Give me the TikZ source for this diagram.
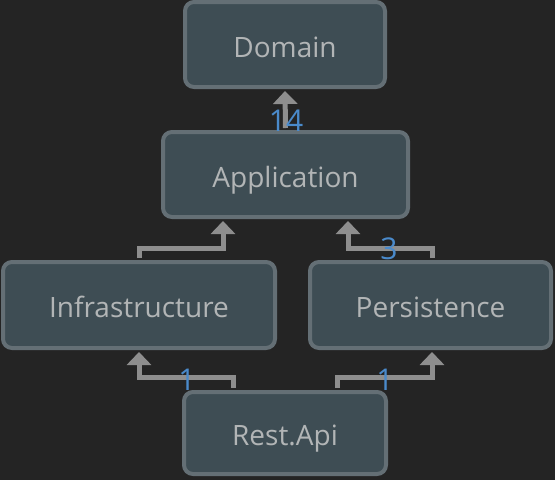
\documentclass[tikz,border=0pt]{standalone}
\usepackage{fontspec}
\setmainfont{Open Sans}
\usetikzlibrary{arrows.meta}
\definecolor{bg}{HTML}{242424}
\definecolor{boxfill}{HTML}{3E4D54}
\definecolor{boxline}{HTML}{646F75}
\definecolor{txt}{HTML}{B2B5B6}
\definecolor{arrowc}{HTML}{8E8E8E}
\definecolor{lblc}{HTML}{4A8ACB}
\tikzset{
  box/.style={draw=boxline, fill=boxfill, line width=4pt, rounded corners=9pt,
    text=txt, font=\fontsize{28}{30}\selectfont, inner sep=0pt,
    text height=30pt, text depth=5pt},
  dep/.style={draw=arrowc, line width=5pt, -{Triangle[width=24pt,length=13pt]}},
  lbl/.style={text=lblc, font=\fontsize{30}{30}\selectfont, inner sep=0pt}
}
\begin{document}
\begin{tikzpicture}[x=1pt,y=-1pt]
\fill[bg] (0,0) rectangle (555,480);
\useasboundingbox (0,0) rectangle (555,480);
\node[box, minimum width=200pt, minimum height=85pt] (dom) at (285,44.5) {Domain};
\node[box, minimum width=245pt, minimum height=85pt] (app) at (285.5,174.5) {Application};
\node[box, minimum width=272pt, minimum height=86pt] (inf) at (139,305) {Infrastructure};
\node[box, minimum width=241pt, minimum height=86pt] (per) at (430.5,305) {Persistence};
\node[box, minimum width=202pt, minimum height=82pt] (api) at (285,433) {Rest.Api};

\draw[dep] ([yshift=2pt]app.north) -- ([yshift=-2pt]dom.south);
\draw[dep] ([yshift=2pt]inf.north) -- ++(0,-10) -| ([xshift=-62.5pt,yshift=-2pt]app.south);
\draw[dep] ([yshift=2pt,xshift=1.5pt]per.north) -- ++(0,-10) -| ([xshift=62.5pt,yshift=-2pt]app.south);
\draw[dep] ([yshift=2pt,xshift=-52pt]api.north) -- ++(0,-11) -| ([yshift=-2pt]inf.south);
\draw[dep] ([yshift=2pt,xshift=52pt]api.north) -- ++(0,-11) -| ([xshift=1.5pt,yshift=-2pt]per.south);

\node[lbl] (l14) at (286,121) {14};
\node[lbl] (l3) at (389,249) {3};
\node[lbl] (l1a) at (187,380) {1};
\node[lbl] (l1b) at (385,380) {1};
\end{tikzpicture}
\end{document}
